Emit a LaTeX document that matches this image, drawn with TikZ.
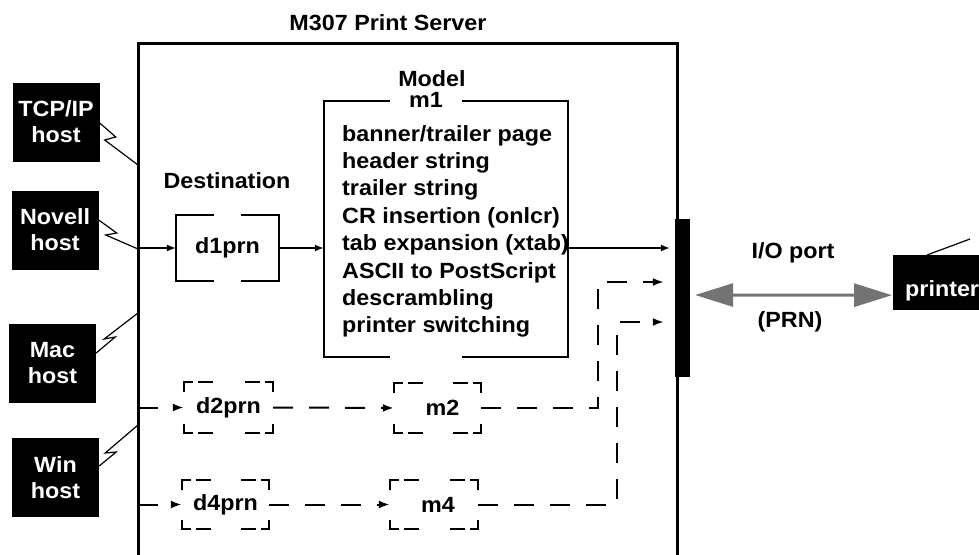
\documentclass[tikz,border=0pt]{standalone}
\usepackage{fontspec}
\setmainfont{Liberation Sans}[FakeStretch=1.06]
\usetikzlibrary{arrows.meta,calc}
\newcommand\dashcorners[1]{%
  \draw[dseg] ([yshift=-10pt]#1.north west) -- (#1.north west) -- ([xshift=9pt]#1.north west);
  \draw[dseg] ([xshift=14pt]#1.north west) -- ([xshift=29pt]#1.north west);
  \draw[dseg] ([yshift=-10pt]#1.north east) -- (#1.north east) -- ([xshift=-8pt]#1.north east);
  \draw[dseg] ([xshift=-13pt]#1.north east) -- ([xshift=-28pt]#1.north east);
  \draw[dseg] ([yshift=9pt]#1.south west) -- (#1.south west) -- ([xshift=9pt]#1.south west);
  \draw[dseg] ([xshift=14pt]#1.south west) -- ([xshift=29pt]#1.south west);
  \draw[dseg] ([yshift=9pt]#1.south east) -- (#1.south east) -- ([xshift=-8pt]#1.south east);
  \draw[dseg] ([xshift=-13pt]#1.south east) -- ([xshift=-28pt]#1.south east);
}
\begin{document}
\begin{tikzpicture}[x=1pt,y=-1pt,
  lbl/.style={font=\fontsize{22}{27.4}\selectfont\bfseries, inner sep=0pt},
  host/.style={fill=black, text=white, font=\fontsize{22}{26}\selectfont\bfseries, align=center,
                minimum width=87pt, minimum height=79pt, inner sep=0pt},
  arr/.style={line width=1.4pt, -{Latex[length=9pt,width=7pt]}},
  darr/.style={line width=2pt, dash pattern=on 20pt off 16pt, -{Latex[length=11pt,width=8pt]}},
  dseg/.style={line width=2pt},
  wire/.style={line width=1.2pt},
  boxline/.style={line width=2pt},
  dnode/.style={lbl, minimum width=89pt, minimum height=51pt}
]
\clip (0,0) rectangle (979,554);
\useasboundingbox (0,0) rectangle (979,554);

% server
\coordinate (sTL) at (138,43);
\coordinate (sTR) at (677,43);
\coordinate (sBL) at (138,560);
\coordinate (sBR) at (677,560);
\draw[line width=3pt, line join=miter] (sBL) -- (sTL) -- (sTR) -- (sBR);
\node[lbl] (title) at (388,23) {M307 Print Server};

% port bar
\node[fill=black, minimum width=15pt, minimum height=158pt, inner sep=0pt] (port) at (682.5,298) {};

% hosts
\node[host] (tcp) at (56,122) {TCP/IP\\host};
\node[host] (nov) at (55,230) {Novell\\host};
\node[host] (mac) at (52.5,363) {Mac\\host};
\node[host] (win) at (55.5,477.5) {Win\\host};

\coordinate (w1) at (138,165);
\coordinate (w2) at (138,249);
\coordinate (w3) at (138,313);
\coordinate (w4) at (138,425);
\draw[wire] ([yshift=-1pt]tcp.east) -- ++(16,14) -- ++(-11,3) -- (w1);
\draw[wire] ([yshift=10pt]nov.east) -- ++(18,13) -- ++(-11,2) -- (w2);
\draw[wire] ([yshift=10pt]mac.east) -- ++(19,-16) -- ++(-11,2) -- (w3);
\draw[wire] ([yshift=11.5pt]win.east) -- ++(17,-14) -- ++(-11,1) -- (w4);

% destination d1prn
\node[lbl] (dest) at (227,181) {Destination};
\node[lbl, minimum width=103pt, minimum height=65pt] (d1) at (227.5,248) {d1prn};
\draw[boxline] ([xshift=-14pt]d1.north) -- (d1.north west) -- (d1.south west) -- ([xshift=-14pt]d1.south);
\draw[boxline] ([xshift=13pt]d1.north) -- (d1.north east) -- (d1.south east) -- ([xshift=13pt]d1.south);
\draw[arr] (sTL |- d1.west) -- (d1.west);

% model m1
\node[minimum width=244pt, minimum height=256pt, inner sep=0pt] (m1box) at (446,229) {};
\draw[boxline] ([xshift=-56pt]m1box.north) -- (m1box.north west) -- (m1box.south west) -- ([xshift=-56pt]m1box.south);
\draw[boxline] ([xshift=16pt]m1box.north) -- (m1box.north east) -- (m1box.south east) -- ([xshift=16pt]m1box.south);
\node[lbl] (model) at (432,79) {Model};
\node[lbl] (m1) at (426,100) {m1};
\node[lbl, align=left, anchor=north west] (m1list) at (342,125)
  {banner/trailer page\\header string\\trailer string\\CR insertion (onlcr)\\tab expansion (xtab)\\ASCII to PostScript\\descrambling\\printer switching};
\draw[arr] (d1.east) -- (m1box.west |- d1.east);
\draw[arr] (m1box.east |- d1.east) -- ([xshift=-5pt]port.west |- d1.east);

% dashed rows
\node[dnode] (d2) at (228.5,407.5) {d2prn};
\node[dnode, minimum width=87pt, minimum height=50pt] (m2) at (437.5,408) {\hspace*{10pt}m2};
\node[dnode, minimum width=87pt, minimum height=49pt] (d4) at (225.5,504.5) {d4prn};
\node[dnode, minimum width=88pt, minimum height=49pt] (m4) at (434,504.5) {\hspace*{8pt}m4};
\dashcorners{d2}
\dashcorners{m2}
\dashcorners{d4}
\dashcorners{m4}

\coordinate (j2) at (598,282);
\coordinate (j4) at (617,322);
\draw[darr] (sTL |- d2.west) -- (d2.west);
\draw[darr] (d2.east) -- (m2.west);
\draw[darr] (m2.east) -| (j2) -- ([xshift=-11pt]port.west |- j2);
\draw[darr] (sTL |- d4.west) -- (d4.west);
\draw[darr] (d4.east) -- (m4.west);
\draw[darr] (m4.east) -| (j4) -- ([xshift=-11pt]port.west |- j4);

% printer
\node[fill=black, minimum width=100pt, minimum height=55pt, inner sep=0pt, anchor=north west] (printer) at (893,255) {};
\node[lbl, text=white, anchor=west] (ptxt) at (905,291) {printer};
\draw[wire] ([xshift=34pt]printer.north west) -- ++(43,-16);
\draw[black!55, line width=3pt,
      {Triangle[length=38pt,width=23pt]}-{Triangle[length=38pt,width=23pt]},
      shorten <=5pt, shorten >=1pt]
  ([yshift=3pt]port.east) -- ([yshift=-12.5pt]printer.west);
\node[lbl] (io) at (793,253) {I/O port};
\node[lbl] (prn) at (790,322) {(PRN)};
\end{tikzpicture}
\end{document}
